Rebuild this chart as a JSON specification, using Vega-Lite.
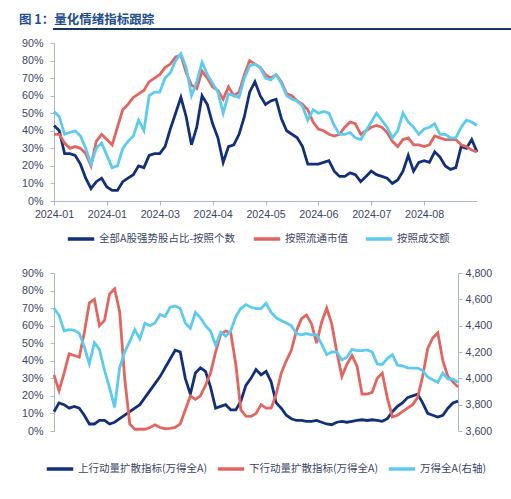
{
  "$schema": "https://vega.github.io/schema/vega-lite/v6.json",
  "background": "white",
  "padding": {"left": 13, "top": 12, "right": 0, "bottom": 0},
  "config": {
    "view": {"stroke": null},
    "axis": {
      "grid": false,
      "domainColor": "#A9B6C8",
      "tickColor": "#A9B6C8",
      "tickSize": 4,
      "labelColor": "#3A4566",
      "labelFont": "Liberation Sans",
      "labelFontSize": 10.7,
      "title": null
    },
    "legend": {
      "orient": "none",
      "direction": "horizontal",
      "title": null,
      "symbolType": "stroke",
      "symbolStrokeWidth": 3.5,
      "symbolSize": 700,
      "labelFont": "Noto Sans CJK SC",
      "labelFontSize": 10.5,
      "labelColor": "#3A4566",
      "labelLimit": 300,
      "labelOffset": 3,
      "columnPadding": 12
    }
  },
  "datasets": {
    "top": [
      {"d": 0, "a": 43, "b": 38, "c": 51},
      {"d": 1, "a": 40, "b": 38, "c": 48},
      {"d": 2, "a": 27, "b": 33, "c": 38},
      {"d": 3, "a": 27, "b": 30, "c": 39},
      {"d": 4, "a": 26, "b": 31, "c": 40},
      {"d": 5, "a": 21, "b": 30, "c": 37},
      {"d": 6, "a": 13, "b": 27, "c": 30},
      {"d": 7, "a": 7, "b": 20, "c": 21},
      {"d": 8, "a": 11, "b": 34, "c": 30},
      {"d": 9, "a": 13, "b": 38, "c": 33},
      {"d": 10, "a": 8, "b": 35, "c": 26},
      {"d": 11, "a": 6, "b": 32, "c": 19},
      {"d": 12, "a": 6, "b": 42, "c": 20},
      {"d": 13, "a": 11, "b": 52, "c": 30},
      {"d": 14, "a": 13, "b": 55, "c": 34},
      {"d": 15, "a": 15, "b": 59, "c": 37},
      {"d": 16, "a": 20, "b": 61, "c": 46},
      {"d": 17, "a": 19, "b": 63, "c": 40},
      {"d": 18, "a": 26, "b": 68, "c": 60},
      {"d": 19, "a": 27, "b": 70, "c": 62},
      {"d": 20, "a": 27, "b": 72, "c": 62},
      {"d": 21, "a": 31, "b": 76, "c": 70},
      {"d": 22, "a": 41, "b": 78, "c": 73},
      {"d": 23, "a": 50, "b": 82, "c": 80},
      {"d": 24, "a": 59, "b": 83, "c": 84},
      {"d": 25, "a": 48, "b": 73, "c": 76},
      {"d": 26, "a": 32, "b": 66, "c": 60},
      {"d": 27, "a": 42, "b": 64, "c": 68},
      {"d": 28, "a": 60, "b": 74, "c": 79},
      {"d": 29, "a": 55, "b": 70, "c": 72},
      {"d": 30, "a": 44, "b": 65, "c": 67},
      {"d": 31, "a": 36, "b": 63, "c": 62},
      {"d": 32, "a": 22, "b": 58, "c": 50},
      {"d": 33, "a": 31, "b": 65, "c": 61},
      {"d": 34, "a": 32, "b": 60, "c": 60},
      {"d": 35, "a": 38, "b": 62, "c": 59},
      {"d": 36, "a": 48, "b": 72, "c": 70},
      {"d": 37, "a": 62, "b": 80, "c": 77},
      {"d": 38, "a": 68, "b": 78, "c": 78},
      {"d": 39, "a": 60, "b": 76, "c": 76},
      {"d": 40, "a": 55, "b": 72, "c": 70},
      {"d": 41, "a": 57, "b": 70, "c": 69},
      {"d": 42, "a": 58, "b": 72, "c": 72},
      {"d": 43, "a": 47, "b": 68, "c": 67},
      {"d": 44, "a": 40, "b": 61, "c": 60},
      {"d": 45, "a": 38, "b": 60, "c": 58},
      {"d": 46, "a": 36, "b": 57, "c": 57},
      {"d": 47, "a": 31, "b": 55, "c": 54},
      {"d": 48, "a": 21, "b": 52, "c": 46},
      {"d": 49, "a": 21, "b": 45, "c": 52},
      {"d": 50, "a": 21, "b": 41, "c": 50},
      {"d": 51, "a": 22, "b": 40, "c": 51},
      {"d": 52, "a": 23, "b": 38, "c": 50},
      {"d": 53, "a": 17, "b": 37, "c": 43},
      {"d": 54, "a": 14, "b": 38, "c": 38},
      {"d": 55, "a": 14, "b": 42, "c": 38},
      {"d": 56, "a": 16, "b": 45, "c": 39},
      {"d": 57, "a": 15, "b": 44, "c": 36},
      {"d": 58, "a": 11, "b": 38, "c": 35},
      {"d": 59, "a": 14, "b": 40, "c": 40},
      {"d": 60, "a": 17, "b": 42, "c": 45},
      {"d": 61, "a": 15, "b": 43, "c": 50},
      {"d": 62, "a": 14, "b": 42, "c": 46},
      {"d": 63, "a": 13, "b": 39, "c": 42},
      {"d": 64, "a": 10, "b": 34, "c": 36},
      {"d": 65, "a": 12, "b": 31, "c": 40},
      {"d": 66, "a": 17, "b": 35, "c": 50},
      {"d": 67, "a": 26, "b": 36, "c": 45},
      {"d": 68, "a": 17, "b": 32, "c": 42},
      {"d": 69, "a": 22, "b": 32, "c": 38},
      {"d": 70, "a": 23, "b": 31, "c": 41},
      {"d": 71, "a": 22, "b": 32, "c": 42},
      {"d": 72, "a": 28, "b": 37, "c": 44},
      {"d": 73, "a": 25, "b": 36, "c": 38},
      {"d": 74, "a": 20, "b": 35, "c": 38},
      {"d": 75, "a": 18, "b": 35, "c": 36},
      {"d": 76, "a": 19, "b": 35, "c": 36},
      {"d": 77, "a": 31, "b": 32, "c": 42},
      {"d": 78, "a": 30, "b": 31, "c": 46},
      {"d": 79, "a": 35, "b": 29, "c": 45},
      {"d": 80, "a": 28, "b": 28, "c": 43}
    ],
    "bot": [
      {"d": 0, "a": 11, "b": 32, "c": 4532},
      {"d": 1, "a": 16, "b": 23, "c": 4480},
      {"d": 2, "a": 15, "b": 33, "c": 4360},
      {"d": 3, "a": 13, "b": 44, "c": 4370},
      {"d": 4, "a": 14, "b": 43, "c": 4365},
      {"d": 5, "a": 13, "b": 42, "c": 4343},
      {"d": 6, "a": 9, "b": 56, "c": 4240},
      {"d": 7, "a": 4, "b": 73, "c": 4110},
      {"d": 8, "a": 4, "b": 75, "c": 4270},
      {"d": 9, "a": 6, "b": 60, "c": 4220},
      {"d": 10, "a": 6, "b": 63, "c": 4060},
      {"d": 11, "a": 4, "b": 78, "c": 3930},
      {"d": 12, "a": 5, "b": 81, "c": 3780},
      {"d": 13, "a": 7, "b": 68, "c": 4080},
      {"d": 14, "a": 9, "b": 30, "c": 4200},
      {"d": 15, "a": 11, "b": 4, "c": 4280},
      {"d": 16, "a": 13, "b": 1, "c": 4370},
      {"d": 17, "a": 15, "b": 1, "c": 4300},
      {"d": 18, "a": 19, "b": 1, "c": 4418},
      {"d": 19, "a": 23, "b": 2, "c": 4400},
      {"d": 20, "a": 27, "b": 3.5, "c": 4420},
      {"d": 21, "a": 31, "b": 2, "c": 4485},
      {"d": 22, "a": 36, "b": 1.3, "c": 4470},
      {"d": 23, "a": 41, "b": 1.5, "c": 4540},
      {"d": 24, "a": 46, "b": 2, "c": 4550},
      {"d": 25, "a": 45, "b": 4, "c": 4530},
      {"d": 26, "a": 30, "b": 12, "c": 4420},
      {"d": 27, "a": 21, "b": 20, "c": 4380},
      {"d": 28, "a": 33, "b": 18, "c": 4500},
      {"d": 29, "a": 36, "b": 20, "c": 4460},
      {"d": 30, "a": 34, "b": 26, "c": 4400},
      {"d": 31, "a": 25, "b": 33, "c": 4360},
      {"d": 32, "a": 13, "b": 45, "c": 4250},
      {"d": 33, "a": 14, "b": 55, "c": 4350},
      {"d": 34, "a": 15, "b": 57, "c": 4320},
      {"d": 35, "a": 12, "b": 56, "c": 4360},
      {"d": 36, "a": 12, "b": 38, "c": 4470},
      {"d": 37, "a": 17, "b": 12, "c": 4530},
      {"d": 38, "a": 26, "b": 8.5, "c": 4560},
      {"d": 39, "a": 30, "b": 8.3, "c": 4540},
      {"d": 40, "a": 35, "b": 10, "c": 4530},
      {"d": 41, "a": 32, "b": 15, "c": 4530},
      {"d": 42, "a": 34, "b": 13, "c": 4570},
      {"d": 43, "a": 28, "b": 13, "c": 4500},
      {"d": 44, "a": 16, "b": 21, "c": 4460},
      {"d": 45, "a": 13, "b": 33, "c": 4440},
      {"d": 46, "a": 9, "b": 40, "c": 4420},
      {"d": 47, "a": 7, "b": 46, "c": 4400},
      {"d": 48, "a": 6, "b": 57, "c": 4340},
      {"d": 49, "a": 6, "b": 64, "c": 4330},
      {"d": 50, "a": 5.5, "b": 66, "c": 4340},
      {"d": 51, "a": 5.5, "b": 61, "c": 4330},
      {"d": 52, "a": 6, "b": 50, "c": 4330},
      {"d": 53, "a": 5, "b": 62, "c": 4260},
      {"d": 54, "a": 4, "b": 70, "c": 4180},
      {"d": 55, "a": 3.6, "b": 61, "c": 4200},
      {"d": 56, "a": 5, "b": 45, "c": 4200},
      {"d": 57, "a": 5.5, "b": 31, "c": 4140},
      {"d": 58, "a": 5, "b": 38, "c": 4160},
      {"d": 59, "a": 5.5, "b": 43, "c": 4220},
      {"d": 60, "a": 6, "b": 37, "c": 4210},
      {"d": 61, "a": 6.4, "b": 21, "c": 4210},
      {"d": 62, "a": 6, "b": 21, "c": 4216},
      {"d": 63, "a": 6.4, "b": 22, "c": 4200},
      {"d": 64, "a": 6, "b": 30, "c": 4110},
      {"d": 65, "a": 5.5, "b": 33, "c": 4105},
      {"d": 66, "a": 7, "b": 19, "c": 4150},
      {"d": 67, "a": 11, "b": 8, "c": 4180},
      {"d": 68, "a": 14, "b": 9, "c": 4100},
      {"d": 69, "a": 16, "b": 11, "c": 4095},
      {"d": 70, "a": 19, "b": 13, "c": 4080},
      {"d": 71, "a": 20, "b": 15, "c": 4078},
      {"d": 72, "a": 21, "b": 19, "c": 4078},
      {"d": 73, "a": 16, "b": 31, "c": 4060},
      {"d": 74, "a": 10, "b": 47, "c": 4010},
      {"d": 75, "a": 9, "b": 53, "c": 3989},
      {"d": 76, "a": 8, "b": 56, "c": 3970},
      {"d": 77, "a": 9, "b": 40, "c": 4040},
      {"d": 78, "a": 13, "b": 31, "c": 3995},
      {"d": 79, "a": 16, "b": 28, "c": 3995},
      {"d": 80, "a": 17, "b": 25, "c": 3969}
    ]
  },
  "columns": 1,
  "align": "none",
  "spacing": 1,
  "concat": [
    {
      "width": 498,
      "height": 0.01,
      "view": {"stroke": "#17365D", "strokeWidth": 2},
      "title": {
        "text": "图 1：量化情绪指标跟踪",
        "anchor": "start",
        "font": "Noto Sans CJK SC",
        "fontSize": 12.5,
        "fontWeight": "bold",
        "color": "#1E4C91",
        "offset": -3,
        "dx": -35
      },
      "data": {"values": [{}]},
      "mark": {"type": "text"},
      "encoding": {"text": {"value": ""}}
    },
    {
      "spacing": 21,
      "resolve": {"scale": {"color": "independent"}, "legend": {"color": "independent"}},
      "vconcat": [
        {
          "width": 423,
          "height": 158,
          "data": {"name": "top"},
          "transform": [{"fold": ["a", "b", "c"], "as": ["s", "v"]}],
          "mark": {"type": "line", "strokeWidth": 2.8},
          "encoding": {
            "x": {
              "field": "d",
              "type": "quantitative",
              "scale": {"domain": [0, 80], "nice": false, "zero": false},
              "axis": {
                "values": [0, 10, 20, 30, 40, 50, 60, 70],
                "labelExpr": "['2024-01','2024-01','2024-03','2024-04','2024-05','2024-06','2024-07','2024-08'][datum.value / 10]",
                "labelFlush": false,
                "labelOverlap": false,
                "labelPadding": 4
              }
            },
            "y": {
              "field": "v",
              "type": "quantitative",
              "scale": {"domain": [0, 90], "nice": false},
              "axis": {
                "values": [0, 10, 20, 30, 40, 50, 60, 70, 80, 90],
                "labelExpr": "datum.value + '%'",
                "labelPadding": 7,
                "title": "·",
                "titleColor": "#ffffff",
                "titleFontSize": 8,
                "titlePadding": 0
              }
            },
            "color": {
              "field": "s",
              "type": "nominal",
              "scale": {"domain": ["a", "b", "c"], "range": ["#12307A", "#E2655F", "#5DCBF0"]},
              "legend": {
                "legendX": 12,
                "legendY": 181,
                "columnPadding": 10,
                "labelExpr": "datum.label == 'a' ? '全部A股强势股占比-按照个数' : datum.label == 'b' ? '按照流通市值' : '按照成交额'"
              }
            }
          }
        },
        {
          "width": 404,
          "height": 158,
          "data": {"name": "bot"},
          "layer": [
            {
              "transform": [{"fold": ["a", "b"], "as": ["s", "v"]}],
              "mark": {"type": "line", "strokeWidth": 2.8},
              "encoding": {
                "x": {
                  "field": "d",
                  "type": "quantitative",
                  "scale": {"domain": [0, 80], "nice": false, "zero": false},
                  "axis": {
                    "values": [0, 10, 20, 30, 40, 50, 60, 70],
                    "labelExpr": "['2024-01','2024-01','2024-03','2024-04','2024-05','2024-06','2024-07','2024-08'][datum.value / 10]",
                    "labelFlush": false,
                    "labelOverlap": false,
                    "labelPadding": 3
                  }
                },
                "y": {
                  "field": "v",
                  "type": "quantitative",
                  "scale": {"domain": [0, 90], "nice": false},
                  "axis": {
                    "orient": "left",
                    "values": [0, 10, 20, 30, 40, 50, 60, 70, 80, 90],
                    "labelExpr": "datum.value + '%'",
                    "labelPadding": 7
                  }
                },
                "color": {
                  "field": "s",
                  "type": "nominal",
                  "scale": {"domain": ["a", "b", "c"], "range": ["#12307A", "#E2655F", "#5DCBF0"]},
                  "legend": {
                    "legendX": -9,
                    "legendY": 181,
                    "columnPadding": 3,
                    "labelExpr": "datum.label == 'a' ? '上行动量扩散指标(万得全A)' : datum.label == 'b' ? '下行动量扩散指标(万得全A)' : '万得全A(右轴)'"
                  }
                }
              }
            },
            {
              "transform": [{"fold": ["c"], "as": ["s", "v"]}],
              "mark": {"type": "line", "strokeWidth": 2.8},
              "encoding": {
                "x": {"field": "d", "type": "quantitative", "axis": null},
                "y": {
                  "field": "v",
                  "type": "quantitative",
                  "scale": {"domain": [3600, 4800], "nice": false, "zero": false},
                  "axis": {
                    "orient": "right",
                    "values": [3600, 3800, 4000, 4200, 4400, 4600, 4800],
                    "format": ",.0f",
                    "labelPadding": 3
                  }
                },
                "color": {"field": "s", "type": "nominal"}
              }
            }
          ],
          "resolve": {"scale": {"y": "independent"}}
        }
      ]
    }
  ]
}
